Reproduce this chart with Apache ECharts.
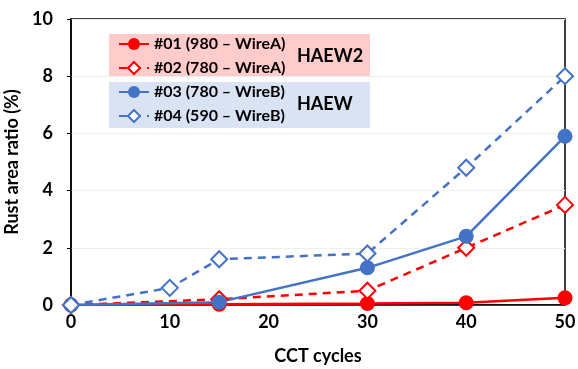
<!DOCTYPE html>
<html>
<head>
<meta charset="utf-8">
<script src="https://cdn.jsdelivr.net/npm/echarts@6/dist/echarts.min.js"></script>
<style>
  html, body { margin: 0; padding: 0; background: #fff; }
  #main { width: 578px; height: 369px; }
</style>
</head>
<body>
<div id="main"></div>
<script>
// CCT cycles vs rust area ratio (%)
var names = ['#01 (980 – WireA)', '#02 (780 – WireA)', '#03 (780 – WireB)', '#04 (590 – WireB)'];
var s01 = [[0, 0], [15, 0.03], [30, 0.05], [40, 0.08], [50, 0.25]];
var s02 = [[0, 0], [15, 0.2], [30, 0.5], [40, 2.0], [50, 3.5]];
var s03 = [[0, 0], [15, 0.1], [30, 1.3], [40, 2.4], [50, 5.9]];
var s04 = [[0, 0], [10, 0.6], [15, 1.6], [30, 1.8], [40, 4.8], [50, 8.0]];
var groupLabels = ['HAEW2', 'HAEW'];

var RED = '#ff0000';
var BLUE = '#4472c4';
var FONT = 'Lato';

var myChart = echarts.init(document.getElementById('main'));

function mk(name, data, color, dashed, filled) {
    return {
        name: name,
        type: 'line',
        data: data,
        symbol: filled ? 'circle' : 'emptyDiamond',
        symbolSize: filled ? 15 : 16,
        showAllSymbol: true,
        lineStyle: { color: color, width: 2.5, type: dashed ? [8, 6] : 'solid' },
        itemStyle: { color: color, borderWidth: 2 },
        emphasis: { disabled: true }
    };
}

option = {
    animation: false,
    textStyle: { fontFamily: FONT },
    grid: {
        left: 71, right: 13, top: 19, bottom: 64,
        outerBoundsMode: 'none',
        containLabel: false,
        show: true, borderColor: '#000', borderWidth: 1.5
    },
    graphic: [
        { type: 'rect', left: 109, top: 34, shape: { width: 261, height: 43 }, style: { fill: '#ffcbcb' }, z: 0 },
        { type: 'rect', left: 109, top: 82, shape: { width: 261, height: 46 }, style: { fill: '#dae3f3' }, z: 0 },
        { type: 'text', left: 297, top: 47, style: { text: groupLabels[0], font: 'bold 18px ' + FONT, fill: '#000' }, z: 10 },
        { type: 'text', left: 297, top: 95, style: { text: groupLabels[1], font: 'bold 18px ' + FONT, fill: '#000' }, z: 10 }
    ],
    legend: {
        orient: 'vertical',
        left: 113,
        top: 31,
        itemWidth: 30,
        itemHeight: 15,
        itemGap: 8,
        textStyle: { fontFamily: FONT, fontSize: 16, fontWeight: 'bold', color: '#000' },
        data: names
    },
    xAxis: {
        type: 'value',
        min: 0, max: 50, interval: 10,
        name: 'CCT cycles',
        nameLocation: 'middle',
        nameGap: 42,
        nameTextStyle: { fontFamily: FONT, fontSize: 18, fontWeight: 'bold', color: '#000' },
        axisLine: { lineStyle: { color: '#000', width: 1.5 } },
        axisTick: { show: false },
        axisLabel: { margin: 8, fontFamily: FONT, fontSize: 18, fontWeight: 'bold', color: '#000' },
        splitLine: { show: false }
    },
    yAxis: {
        type: 'value',
        min: 0, max: 10, interval: 2,
        name: 'Rust area ratio (%)',
        nameLocation: 'middle',
        nameGap: 39,
        nameTextStyle: { fontFamily: FONT, fontSize: 18, fontWeight: 'bold', color: '#000' },
        axisLine: { show: true, lineStyle: { color: '#000', width: 1.5 } },
        axisTick: { show: true, length: 4, lineStyle: { color: '#000' } },
        axisLabel: { margin: 18, fontFamily: FONT, fontSize: 18, fontWeight: 'bold', color: '#000' },
        splitLine: { lineStyle: { color: '#eeeeee', width: 1 } }
    },
    series: [
        mk(names[0], s01, RED, false, true),
        mk(names[1], s02, RED, true, false),
        mk(names[2], s03, BLUE, false, true),
        mk(names[3], s04, BLUE, true, false)
    ]
};

myChart.setOption(option);
</script>
</body>
</html>
